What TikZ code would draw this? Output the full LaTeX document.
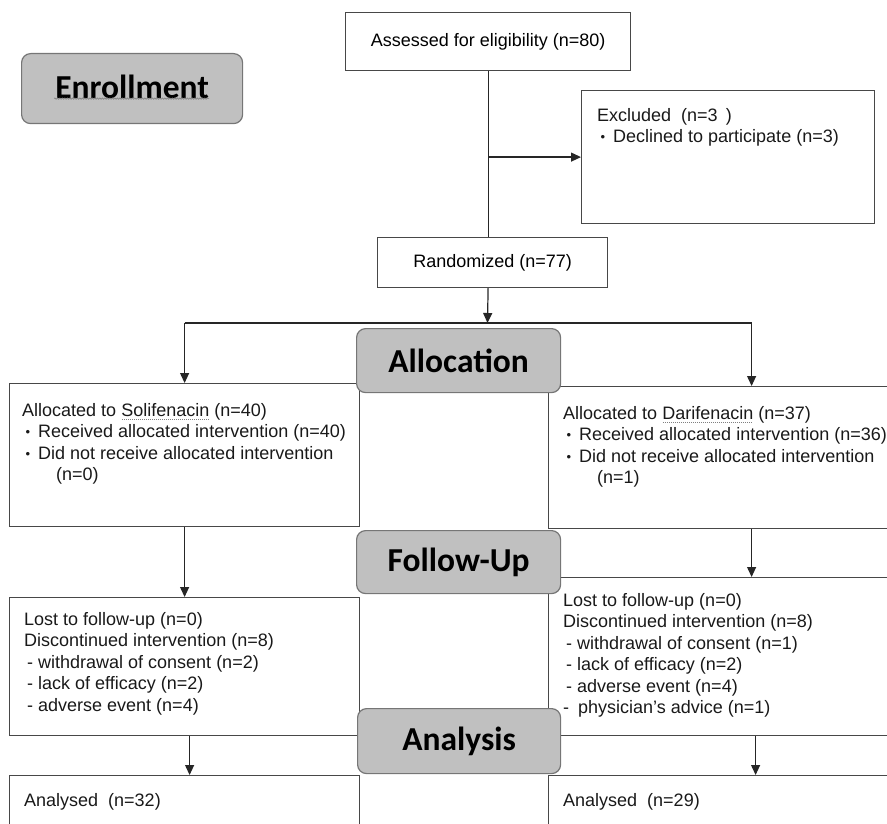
\documentclass[tikz,border=0pt]{standalone}
\usepackage{fontspec}
\setmainfont{Liberation Sans}
\newfontfamily\stagefont{Carlito}
\usepackage{xcolor}
\usetikzlibrary{arrows.meta,positioning,decorations.pathmorphing}
\definecolor{stagegray}{RGB}{192,192,192}
\definecolor{boxline}{RGB}{72,72,72}
\newcommand{\bitem}{\makebox[16pt][l]{\hspace{3.5pt}\raisebox{1pt}{\fontsize{13}{13}\selectfont\textbullet}}}
\newcommand{\spellmark}[1]{\setbox0\hbox{#1}\rlap{\color{gray}\raisebox{-3pt}{\hbox to \wd0{\leaders\hbox to 2pt{\hss\vrule width 1pt height 0.7pt\hss}\hfill}}}#1}

\begin{document}
\begin{tikzpicture}[x=1pt,y=-1pt,
  cbox/.style={draw=boxline,line width=1.2pt,inner sep=0pt,anchor=north west,
               font=\fontsize{18}{21.5}\selectfont},
  ctext/.style={anchor=north west,inner sep=0pt,align=left,text=black!90,
                font=\fontsize{18}{21.5}\selectfont},
  stage/.style={draw=boxline!75,fill=stagegray,rounded corners=9pt,line width=1.2pt,
                inner sep=0pt,anchor=north west,
                font=\stagefont\bfseries\fontsize{33.5}{38}\selectfont},
  carr/.style={-{Triangle[length=10pt,width=9pt]},line width=1.2pt,draw=black!85},
  cline/.style={line width=1.2pt,draw=black!85}
]
\clip (0,0) rectangle (887,824);
% boxes
\node[cbox,minimum width=285pt,minimum height=58pt] (assess) at (345,12) {Assessed for eligibility (n=80)};
\node[cbox,minimum width=293pt,minimum height=133pt] (excl) at (581,90) {};
\node[cbox,minimum width=230pt,minimum height=50pt] (rand) at (377,237) {Randomized (n=77)};
\node[cbox,minimum width=350pt,minimum height=143pt] (salloc) at (9,383) {};
\node[cbox,minimum width=406pt,minimum height=142pt] (dalloc) at (548,386) {};
\node[cbox,minimum width=350pt,minimum height=138pt] (sfollow) at (9,597) {};
\node[cbox,minimum width=406pt,minimum height=158pt] (dfollow) at (548,577) {};
\node[cbox,minimum width=350pt,minimum height=80pt] (sanal) at (9,775) {};
\node[cbox,minimum width=406pt,minimum height=80pt] (danal) at (548,775) {};
% box texts
\node[ctext] (excltxt) at (597,108) {Excluded\ \ (n=3\ \,)\\\bitem Declined to participate (n=3)};
\node[ctext] (salloctxt) at (22,403) {Allocated to \spellmark{Solifenacin} (n=40)\\
  \bitem Received allocated intervention (n=40)\\
  \bitem Did not receive allocated intervention\\
  \hspace*{34pt}(n=0)};
\node[ctext] (dalloctxt) at (563,406) {Allocated to \spellmark{Darifenacin} (n=37)\\
  \bitem Received allocated intervention (n=36)\\
  \bitem Did not receive allocated intervention\\
  \hspace*{34pt}(n=1)};
\node[ctext] (sfollowtxt) at (24,612) {Lost to follow-up (n=0)\\
  Discontinued intervention (n=8)\\
  \hspace*{3pt}- withdrawal of consent (n=2)\\
  \hspace*{3pt}- lack of efficacy (n=2)\\
  \hspace*{3pt}- adverse event (n=4)};
\node[ctext] (dfollowtxt) at (563,593) {Lost to follow-up (n=0)\\
  Discontinued intervention (n=8)\\
  \hspace*{3pt}- withdrawal of consent (n=1)\\
  \hspace*{3pt}- lack of efficacy (n=2)\\
  \hspace*{3pt}- adverse event (n=4)\\
  -\hspace*{9pt}physician’s advice (n=1)};
\node[ctext] (sanaltxt) at (24,793) {Analysed\ \ (n=32)};
\node[ctext] (danaltxt) at (563,793) {Analysed\ \ (n=29)};
% connectors
\coordinate (split) at (487.5,323);
\draw[cline] (assess.south) -- (assess.south |- rand.north);
\draw[carr] (assess.south |- excl.west) -- (excl.west);
\draw[carr] (assess.south |- rand.south) -- (split);
\draw[cline] (salloc.north |- split) -- (dalloc.north |- split);
\draw[carr] (salloc.north |- split) -- (salloc.north);
\draw[carr] (dalloc.north |- split) -- (dalloc.north);
\draw[carr] (salloc.south) -- (sfollow.north);
\draw[carr] (dalloc.south) -- (dfollow.north);
\draw[carr] ([xshift=5pt]sfollow.south) -- ([xshift=5pt]sanal.north);
\draw[carr] ([xshift=4pt]dfollow.south) -- ([xshift=4pt]danal.north);
% stage labels
\node[stage,minimum width=221pt,minimum height=70pt] (enroll) at (21,53) {\raisebox{3pt}{Enrollment}};
\node[stage,minimum width=204pt,minimum height=64pt] (alloc) at (356,328) {Allocation};
\node[stage,minimum width=204pt,minimum height=63pt] (follow) at (356,530) {Follow-Up};
\node[stage,minimum width=203pt,minimum height=65pt] (anal) at (357,708) {Analysis};
\draw[gray,line width=0.6pt,decorate,decoration={snake,amplitude=0.7pt,segment length=2.5pt}]
  ([xshift=-78pt,yshift=-10pt]enroll.center) -- ([xshift=77pt,yshift=-10pt]enroll.center);
\end{tikzpicture}
\end{document}
